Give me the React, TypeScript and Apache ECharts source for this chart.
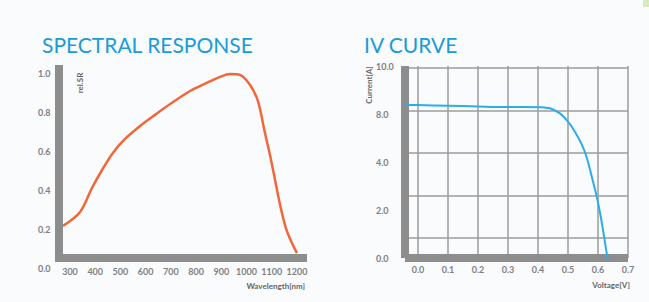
import React, { useEffect, useRef } from "react";
import * as echarts from "echarts";

// Spectral response (left)
const wavelength = [272, 340, 387, 427, 470, 518, 578, 637, 697, 776, 843, 895, 934, 974, 1014, 1045, 1073, 1093, 1113, 1133, 1156, 1180, 1200];
const relSR = [0.216, 0.289, 0.412, 0.505, 0.593, 0.665, 0.732, 0.789, 0.845, 0.912, 0.954, 0.985, 1.0, 0.995, 0.943, 0.861, 0.696, 0.582, 0.454, 0.325, 0.206, 0.129, 0.077];
const srXTicks = [300, 400, 500, 600, 700, 800, 900, 1000, 1100, 1200];

// IV curve (right)
const voltage = [-0.045, 0, 0.1, 0.2, 0.273, 0.35, 0.407, 0.44, 0.473, 0.5, 0.523, 0.547, 0.563, 0.58, 0.595, 0.608, 0.62, 0.63, 0.636];
const current = [8.27, 8.26, 8.23, 8.2, 8.17, 8.17, 8.16, 8.11, 7.87, 7.48, 7.01, 6.38, 5.77, 4.85, 4.0, 3.1, 2.1, 1.2, 0.7];
const ivXTicks = [0, 0.1, 0.2, 0.3, 0.4, 0.5, 0.6, 0.7];
const ivGridCurrents = [2, 4, 6, 8, 10];
const ivYLabels = ["0.0", "2.0", "4.0", "8.0", "10.0"];

const FONT = "Lato";
const BAR = "#8d8d8d";
const LABEL = "#808080";
const GRIDC = "#9d9d9d";

export default function App() {
  const ref = useRef<HTMLDivElement>(null);
  useEffect(() => {
    if (!ref.current) return;
    const chart = echarts.init(ref.current, undefined, { renderer: "svg" });
    const labelStyle = { color: LABEL, fontSize: 9, fontWeight: "bold" as const, fontFamily: FONT };
    const barLine = { show: true, onZero: false, lineStyle: { color: BAR, width: 8, cap: "butt" as const } };
    chart.setOption({
      animation: false,
      backgroundColor: "#f9fbfc",
      grid: [
        { left: 58.5, top: 65, width: 248.5, height: 203 },
        { left: 405, top: 66, width: 223, height: 192 },
        { left: 58.5, top: 65, width: 248.5, height: 197 },
      ],
      xAxis: [
        {
          gridIndex: 0, type: "value", min: 254.4, max: 1239.7, offset: -10,
          axisLine: barLine,
          axisTick: { show: false, customValues: srXTicks },
          splitLine: { show: false },
          axisLabel: { ...labelStyle, margin: 9, customValues: srXTicks, formatter: (v: number) => String(v) },
        },
        {
          gridIndex: 1, type: "value", min: -0.0433, max: 0.7,
          axisLine: barLine,
          axisTick: { show: false, customValues: ivXTicks },
          splitLine: { show: true, lineStyle: { color: GRIDC, width: 1.5 } },
          axisLabel: { ...labelStyle, margin: 7, customValues: ivXTicks, formatter: (v: number) => v.toFixed(1) },
        },
        {
          gridIndex: 2, type: "value", min: 0, max: 1, show: false,
        },
      ],
      yAxis: [
        {
          gridIndex: 0, type: "value", min: 0, max: 1.046, interval: 0.2,
          axisLine: { show: false },
          axisTick: { show: false },
          splitLine: { show: false },
          axisLabel: { ...labelStyle, margin: 20.5, align: "left", showMaxLabel: false, formatter: (v: number) => (Math.abs(v * 5 - Math.round(v * 5)) < 1e-6 ? v.toFixed(1) : "") },
        },
        {
          gridIndex: 1, type: "value", min: 1.065, max: 10.1,
          axisLine: barLine,
          axisTick: { show: false, customValues: ivGridCurrents },
          splitLine: { show: true, lineStyle: { color: GRIDC, width: 1.5 } },
          axisLabel: { show: false },
        },
        {
          gridIndex: 1, type: "category", data: ivYLabels, boundaryGap: false, position: "left",
          axisLine: { show: false },
          axisTick: { show: false },
          splitLine: { show: false },
          axisLabel: { ...labelStyle, margin: 29, align: "left" },
        },
        {
          gridIndex: 2, type: "value", min: 0, max: 1,
          axisLine: barLine,
          axisTick: { show: false },
          splitLine: { show: false },
          axisLabel: { show: false },
        },
      ],
      series: [
        {
          type: "line", xAxisIndex: 0, yAxisIndex: 0, smooth: 0.3, symbol: "none",
          data: wavelength.map((w, i) => [w, relSR[i]]),
          lineStyle: { color: "#f2673a", width: 2.5 },
        },
        {
          type: "line", xAxisIndex: 1, yAxisIndex: 1, smooth: 0.3, symbol: "none", clip: true,
          data: voltage.map((v, i) => [v, current[i]]),
          lineStyle: { color: "#2badea", width: 2 },
        },
      ],
      graphic: [
        { type: "rect", shape: { x: 643, y: 0, width: 6, height: 7 }, style: { fill: "#d9eabd" } },
        { type: "text", left: 42, top: 34, style: { text: "SPECTRAL RESPONSE", fill: "#1b9bd8", fontSize: 21, fontFamily: FONT } },
        { type: "text", left: 364, top: 34, style: { text: "IV CURVE", fill: "#1b9bd8", fontSize: 21, fontFamily: FONT } },
        { type: "text", x: 80, y: 83, rotation: Math.PI / 2, style: { text: "rel.SR", fill: "#666", fontSize: 8, fontWeight: "bold", fontFamily: FONT, align: "center", verticalAlign: "middle" } },
        { type: "text", x: 305, y: 286, style: { text: "Wavelength[nm]", fill: "#666", fontSize: 8, fontWeight: "bold", fontFamily: FONT, align: "right", verticalAlign: "middle" } },
        { type: "text", x: 369, y: 85, rotation: Math.PI / 2, style: { text: "Current[A]", fill: "#666", fontSize: 8, fontWeight: "bold", fontFamily: FONT, align: "center", verticalAlign: "middle" } },
        { type: "text", x: 630, y: 285, style: { text: "Voltage[V]", fill: "#666", fontSize: 8, fontWeight: "bold", fontFamily: FONT, align: "right", verticalAlign: "middle" } },
      ],
    });
    return () => chart.dispose();
  }, []);
  return <div ref={ref} style={{ position: "fixed", left: 0, top: 0, width: 649, height: 302 }} />;
}
